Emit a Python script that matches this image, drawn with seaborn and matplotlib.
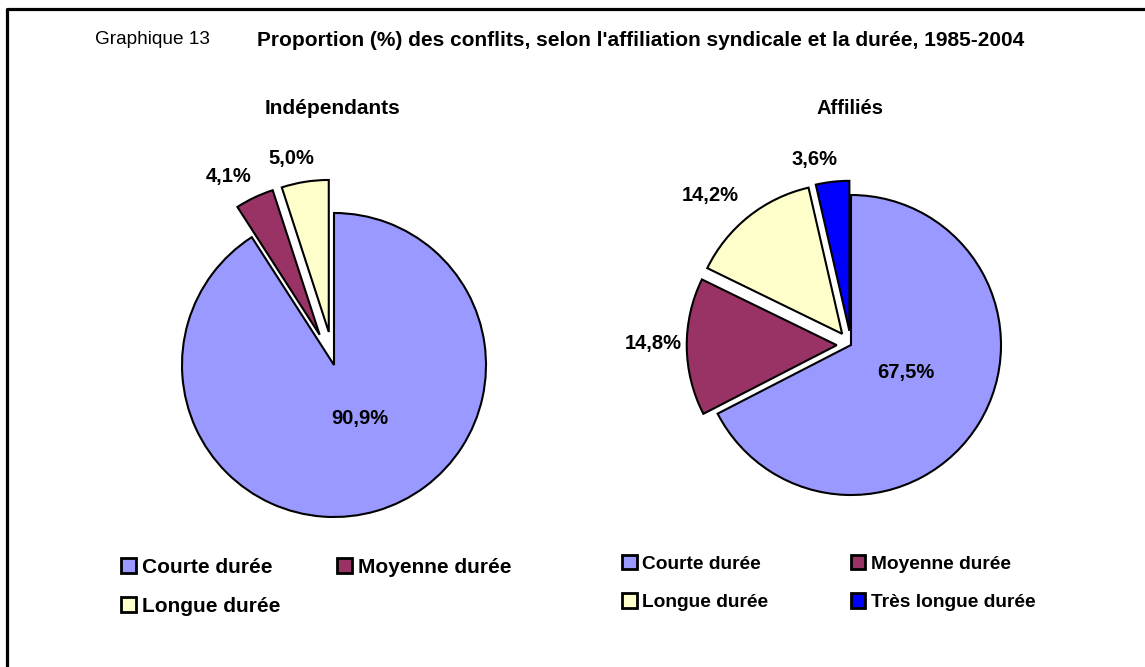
import matplotlib.pyplot as plt
import numpy as np
import seaborn as sns
from matplotlib.lines import Line2D
from matplotlib.patches import Patch

# data
categories = ["Courte durée", "Moyenne durée", "Longue durée", "Très longue durée"]
colors = ["#9999FF", "#993366", "#FFFFCC", "#0000FF"]
indep_values = [90.9, 4.1, 5.0]
affil_values = [67.5, 14.8, 14.2, 3.6]

W, H = 1145, 667

# label placement (distance from pie centre in radii, angle tweak in degrees)
indep_label_pos = [(0.39, 9.7), (1.42, 3.7), (1.39, 2.7)]
affil_label_pos = [(0.41, 4.9), (1.32, -1.0), (1.37, 4.7), (1.26, 4.7)]


def fmt_pct(v):
    return f"{v:.1f}".replace(".", ",") + "%"


def draw_pie(ax, values, center, radius, explode, label_pos):
    """Exploded pie, clockwise from 12 o'clock, with Excel-like labels."""
    cx, cy = center[0], H - center[1]
    # matplotlib's explode is in data units, so scale by the radius
    wedges, _ = ax.pie(
        values,
        colors=colors[: len(values)],
        explode=[e * radius for e in explode],
        startangle=90,
        counterclock=False,
        center=(cx, cy),
        radius=radius,
        wedgeprops=dict(edgecolor="black", linewidth=1.5),
        frame=True,
    )
    for w, v, (dist, tweak) in zip(wedges, values, label_pos):
        mid = np.deg2rad((w.theta1 + w.theta2) / 2 + tweak)
        ax.text(cx + radius * dist * np.cos(mid), cy + radius * dist * np.sin(mid),
                fmt_pct(v), ha="center", va="center", fontsize=14.5, fontweight="bold")


sns.set_theme(style="white")
plt.rcParams["font.family"] = ["Liberation Sans", "DejaVu Sans"]
plt.rcParams["text.color"] = "black"

fig = plt.figure(figsize=(W / 100, H / 100), dpi=100)
ax = fig.add_axes([0, 0, 1, 1])

draw_pie(ax, indep_values, (334, 365), 152, [0, 0.22, 0.22], indep_label_pos)
draw_pie(ax, affil_values, (851, 345), 150, [0, 0.095, 0.095, 0.095], affil_label_pos)

ax.set_xlim(0, W)
ax.set_ylim(0, H)
ax.set_aspect("equal")
ax.axis("off")

# titles
fig.text(95 / W, 1 - 40 / H, "Graphique 13", fontsize=13.7, va="center", ha="left")
fig.text(257 / W, 1 - 40 / H,
         "Proportion (%) des conflits, selon l'affiliation syndicale et la durée, 1985-2004",
         fontsize=15, fontweight="bold", va="center", ha="left")
fig.text(333 / W, 1 - 108 / H, "Indépendants", fontsize=15, fontweight="bold",
         ha="center", va="center")
fig.text(850 / W, 1 - 108 / H, "Affiliés", fontsize=14.5, fontweight="bold",
         ha="center", va="center")


# legends: row-major order like the original (matplotlib fills columns first)
def legend_order(n):
    rows = (n + 1) // 2
    return [r * 2 + c for c in range(2) for r in range(rows) if r * 2 + c < n]


def make_legend(n, anchor, size, spacing, rowgap):
    idx = legend_order(n)
    handles = [Patch(facecolor=colors[i], edgecolor="black", linewidth=2) for i in idx]
    labels = [categories[i] for i in idx]
    hl = 14.5 / (size * 100 / 72)
    return ax.legend(handles, labels, ncol=2, frameon=False, loc="upper left",
                     borderpad=0, borderaxespad=0, handlelength=hl, handleheight=hl,
                     handletextpad=0.3, columnspacing=spacing, labelspacing=rowgap,
                     prop=dict(size=size, weight="bold"),
                     bbox_to_anchor=(anchor[0] / W, 1 - anchor[1] / H),
                     bbox_transform=fig.transFigure)


leg1 = make_legend(3, (121, 558), 15, 2.75, 0.95)
ax.add_artist(leg1)
make_legend(4, (622, 555), 13.8, 4.3, 1.08)

# frame lines (left and top only are visible in the original)
fig.add_artist(Line2D([6.5 / W, 6.5 / W, 1], [0, 1 - 8.5 / H, 1 - 8.5 / H],
                      transform=fig.transFigure, color="black", linewidth=2.3))

fig.savefig("out.png", dpi=100)
